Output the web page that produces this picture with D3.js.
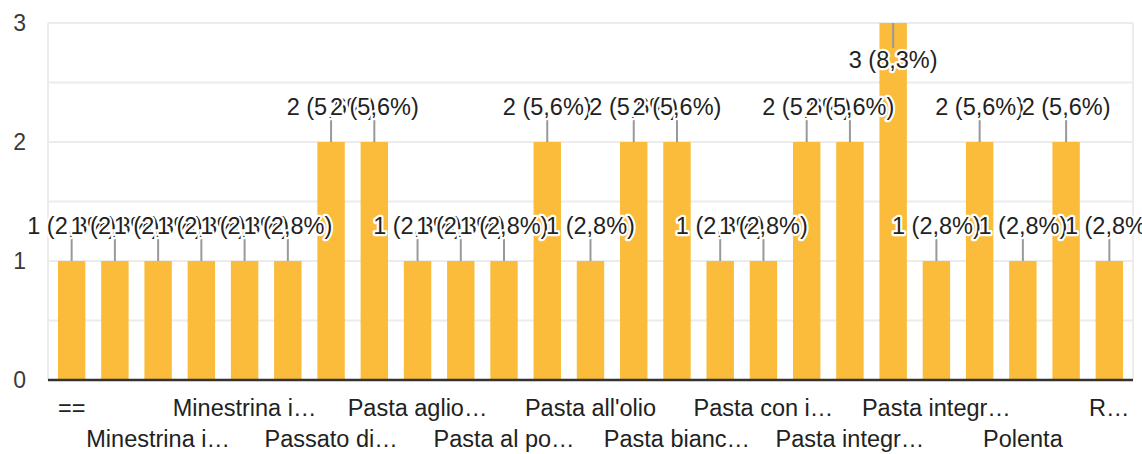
<!DOCTYPE html>
<html>
<head>
<meta charset="utf-8">
<script src="https://cdn.jsdelivr.net/npm/d3@7"></script>
<style>
  body { margin: 0; background: #fff; }
  svg text { font-family: Arial, "Liberation Sans", sans-serif; }
</style>
</head>
<body>
<div id="chart"></div>
<script>
// Category labels (only every other one is shown by the chart; hidden ones left blank)
var categories = ["==", "", "Minestrina i…", "", "Minestrina i…", "", "Passato di…", "",
  "Pasta aglio…", "", "Pasta al po…", "", "Pasta all'olio", "", "Pasta bianc…", "",
  "Pasta con i…", "", "Pasta integr…", "", "Pasta integr…", "", "Polenta", "", "R…"];
// Number of answers per category
var counts = [1, 1, 1, 1, 1, 1, 2, 2, 1, 1, 1, 2, 1, 2, 2, 1, 1, 2, 2, 3, 1, 2, 1, 2, 1];
var yTicks = [0, 1, 2, 3];

var width = 1142, height = 454;
// plot area edges
var pLeft = 48, pRight = 1133, pTop = 23, pBottom = 380;
var total = d3.sum(counts);

var svg = d3.select('#chart').append('svg')
    .attr('width', width)
    .attr('height', height);

var x = d3.scaleBand()
    .domain(d3.range(counts.length))
    .range([pLeft, pRight])
    .paddingInner(0.366)
    .paddingOuter(0.23);

var y = d3.scaleLinear()
    .domain([0, 3])
    .range([pBottom, pTop]);

// grid lines every half unit
svg.append('g').selectAll('line')
    .data(d3.range(0.5, 3.01, 0.5))
    .enter().append('line')
    .attr('x1', pLeft).attr('x2', pRight)
    .attr('y1', function(d) { return y(d); })
    .attr('y2', function(d) { return y(d); })
    .attr('stroke', '#ececec')
    .attr('stroke-width', 2);

// side borders of plot
svg.append('g').selectAll('line')
    .data([pLeft, pRight])
    .enter().append('line')
    .attr('x1', function(d) { return d; }).attr('x2', function(d) { return d; })
    .attr('y1', pTop).attr('y2', pBottom)
    .attr('stroke', '#ececec')
    .attr('stroke-width', 2);

// y tick labels
svg.append('g').selectAll('text')
    .data(yTicks)
    .enter().append('text')
    .attr('x', 26)
    .attr('y', function(d) { return y(d); })
    .attr('dy', '0.36em')
    .attr('text-anchor', 'end')
    .attr('font-size', 23)
    .attr('fill', '#3a3a3a')
    .text(function(d) { return d; });

// bars
svg.append('g').selectAll('rect')
    .data(counts)
    .enter().append('rect')
    .attr('x', function(d, i) { return x(i); })
    .attr('y', function(d) { return y(d); })
    .attr('width', x.bandwidth())
    .attr('height', function(d) { return pBottom - y(d); })
    .attr('fill', '#fabc3a');

// baseline
svg.append('line')
    .attr('x1', pLeft).attr('x2', pRight)
    .attr('y1', pBottom).attr('y2', pBottom)
    .attr('stroke', '#333')
    .attr('stroke-width', 2.5);

// x labels, alternating rows
svg.append('g').selectAll('text')
    .data(categories)
    .enter().append('text')
    .attr('x', function(d, i) { return x(i) + x.bandwidth() / 2; })
    .attr('y', function(d, i) { return (i % 4 === 0) ? 416 : 447; })
    .attr('text-anchor', 'middle')
    .attr('font-size', 23.5)
    .attr('fill', '#222')
    .text(function(d) { return d; });

// data annotations: stem + label with white halo
var fmt = d3.format('.1f');
var ann = svg.append('g');
counts.forEach(function(d, i) {
    var cx = x(i) + x.bandwidth() / 2;
    var yt = y(d);
    var down = yt - 50 < pTop;
    var g = ann.append('g');
    g.append('line')
        .attr('x1', cx).attr('x2', cx)
        .attr('y1', yt)
        .attr('y2', down ? yt + 25 : yt - 25)
        .attr('stroke', '#999')
        .attr('stroke-width', 2);
    g.append('text')
        .attr('x', cx)
        .attr('y', down ? yt + 45 : yt - 27)
        .attr('text-anchor', 'middle')
        .attr('font-size', 23.5)
        .attr('fill', '#222')
        .attr('stroke', '#fff')
        .attr('stroke-width', 4.5)
        .attr('stroke-linejoin', 'round')
        .attr('paint-order', 'stroke')
        .text(d + ' (' + fmt(d / total * 100).replace('.', ',') + '%)');
});
</script>
</body>
</html>
